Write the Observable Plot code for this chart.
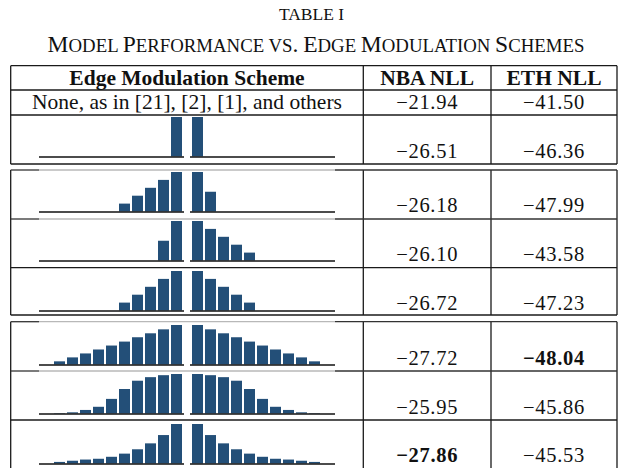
<!DOCTYPE html>
<html><head><meta charset="utf-8">
<script src="https://cdn.jsdelivr.net/npm/d3@7"></script>
<script src="https://cdn.jsdelivr.net/npm/@observablehq/plot@0.6"></script>
<style>
body{margin:0;background:#fff}
#page{position:relative;width:623px;height:468px;overflow:hidden;background:#fff}
#page svg{position:absolute}
</style></head><body><div id="page"></div>
<script>
// ---------- data ----------
const titleText = "TABLE I";
const subtitleText = "Model Performance vs. Edge Modulation Schemes";
const headers = ["Edge Modulation Scheme", "NBA NLL", "ETH NLL"];
const baselineLabel = "None, as in [21], [2], [1], and others";
const nbaNLL = [-21.94, -26.51, -26.18, -26.10, -26.72, -27.72, -25.95, -27.86];
const ethNLL = [-41.50, -46.36, -47.99, -43.58, -47.23, -48.04, -45.86, -45.53];
const slots = [1, 2, 3, 4, 5, 6, 7, 8, 9, 10, 11];
// left half: far-left slot 1 ... slot 11 next to the centre
const leftWeights = [
  [0, 0, 0, 0, 0, 0, 0, 0, 0, 0, 1],
  [0, 0, 0, 0, 0, 0, 0.2, 0.4, 0.6, 0.8, 1],
  [0, 0, 0, 0, 0, 0, 0, 0, 0, 0.5, 1],
  [0, 0, 0, 0, 0, 0, 0.2, 0.4, 0.6, 0.8, 1],
  [0, 0.08, 0.18, 0.28, 0.38, 0.48, 0.58, 0.69, 0.79, 0.89, 1],
  [0, 0.01, 0.03, 0.09, 0.17, 0.37, 0.62, 0.83, 0.92, 0.97, 1],
  [0, 0.04, 0.07, 0.1, 0.12, 0.17, 0.25, 0.36, 0.51, 0.72, 1]
];
// right half: slot 1 next to the centre ... slot 11 far right
const rightWeights = [
  [1, 0, 0, 0, 0, 0, 0, 0, 0, 0, 0],
  [1, 0.5, 0, 0, 0, 0, 0, 0, 0, 0, 0],
  [1, 0.8, 0.6, 0.4, 0.2, 0, 0, 0, 0, 0, 0],
  [1, 0.8, 0.6, 0.4, 0.2, 0, 0, 0, 0, 0, 0],
  [1, 0.89, 0.79, 0.69, 0.58, 0.48, 0.38, 0.28, 0.18, 0.08, 0],
  [1, 0.97, 0.92, 0.83, 0.62, 0.37, 0.17, 0.09, 0.03, 0.01, 0],
  [1, 0.72, 0.51, 0.36, 0.25, 0.17, 0.12, 0.1, 0.07, 0.04, 0]
];

// ---------- layout ----------
const barColor = "#234f78";
const serif = "'Liberation Serif','Times New Roman',serif";
const colX = [10.7, 363.3, 491, 617];
const boxes = [[65.7, 164], [170, 315], [321.7, 470]];
const blackRules = [65.7, 90, 115, 164, 267.7, 315, 420];
const softRules = [170, 219, 321.7, 371];
const headerBase = 85;
const row1Base = 109;
const numBase = [157.5, 211.7, 261, 310, 365, 414, 461.7];
const barTop = [116.7, 171.7, 221, 271, 324.7, 374, 424];
const leftX = 39.3, rightX = 190.3, halfW = 145;

const page = document.getElementById("page");
const svg = d3.select(page).append("svg")
  .attr("width", 623).attr("height", 468)
  .style("left", "0px").style("top", "0px");

// title
svg.append("text").attr("x", 311.5).attr("y", 20).attr("text-anchor", "middle")
  .attr("font-family", serif).attr("font-size", 17.5).attr("fill", "#111").text(titleText);

// small caps subtitle
const bigSize = 23.5, smallSize = 18.8;
const sub = svg.append("text").attr("x", 316).attr("y", 52).attr("text-anchor", "middle")
  .attr("font-family", serif).attr("font-size", bigSize).attr("fill", "#111");
subtitleText.split(/(\s+)/).forEach(tok => {
  if (/^\s+$/.test(tok)) { sub.append("tspan").attr("font-size", smallSize).text(" "); return; }
  for (const ch of tok) {
    const isUpper = ch !== ch.toLowerCase() || /[^a-z]/.test(ch);
    sub.append("tspan").attr("font-size", isUpper ? bigSize : smallSize).text(ch.toUpperCase());
  }
});

// rules
const rules = svg.append("g").attr("fill", "none");
for (const [y0, y1] of boxes) {
  for (const x of colX) {
    rules.append("line").attr("x1", x).attr("x2", x).attr("y1", y0).attr("y2", y1)
      .attr("stroke", "#1a1a1a").attr("stroke-width", 1.3);
  }
}
for (const y of blackRules) {
  rules.append("line").attr("x1", colX[0]).attr("x2", colX[3]).attr("y1", y).attr("y2", y)
    .attr("stroke", "#1a1a1a").attr("stroke-width", 1.3);
}
for (const y of softRules) {
  rules.append("line").attr("x1", colX[0]).attr("x2", 39).attr("y1", y).attr("y2", y)
    .attr("stroke", "#333").attr("stroke-width", 1.3);
  rules.append("line").attr("x1", 39).attr("x2", 335).attr("y1", y).attr("y2", y)
    .attr("stroke", "#b8b8b8").attr("stroke-width", 1.3);
  rules.append("line").attr("x1", 335).attr("x2", colX[3]).attr("y1", y).attr("y2", y)
    .attr("stroke", "#333").attr("stroke-width", 1.3);
}

// header
const cx = [(colX[0] + colX[1]) / 2, (colX[1] + colX[2]) / 2, (colX[2] + colX[3]) / 2];
headers.forEach((h, i) => {
  svg.append("text").attr("x", cx[i]).attr("y", headerBase).attr("text-anchor", "middle")
    .attr("font-family", serif).attr("font-weight", "bold").attr("font-size", 21.5)
    .attr("fill", "#111").text(h);
});
svg.append("text").attr("x", cx[0]).attr("y", row1Base).attr("text-anchor", "middle")
  .attr("font-family", serif).attr("font-size", 21.5).attr("fill", "#111").text(baselineLabel);

// numbers
const fmt = v => "\u2212" + Math.abs(v).toFixed(2);
const bestNba = d3.minIndex(nbaNLL), bestEth = d3.minIndex(ethNLL);
const allBase = [row1Base, ...numBase];
nbaNLL.forEach((v, i) => {
  svg.append("text").attr("x", cx[1]).attr("y", allBase[i]).attr("text-anchor", "middle")
    .attr("font-family", serif).attr("font-size", 20.5).attr("letter-spacing", 0.7)
    .attr("font-weight", i === bestNba ? "bold" : "normal").attr("fill", "#111").text(fmt(v));
});
ethNLL.forEach((v, i) => {
  svg.append("text").attr("x", cx[2]).attr("y", allBase[i]).attr("text-anchor", "middle")
    .attr("font-family", serif).attr("font-size", 20.5).attr("letter-spacing", 0.7)
    .attr("font-weight", i === bestEth ? "bold" : "normal").attr("fill", "#111").text(fmt(v));
});

// bar glyphs
function half(weights) {
  const data = slots.map((s, i) => ({slot: s, w: weights[i]}));
  return Plot.plot({
    width: halfW, height: 43,
    marginTop: 1, marginBottom: 2.5, marginLeft: 0, marginRight: 0,
    style: {background: "transparent"},
    x: {type: "band", domain: slots, padding: 0.15, axis: null},
    y: {domain: [0, 1], axis: null},
    marks: [
      Plot.barY(data, {x: "slot", y: "w", fill: barColor}),
      Plot.ruleY([0], {stroke: "#111", strokeWidth: 1.3})
    ]
  });
}
leftWeights.forEach((lw, r) => {
  const a = half(lw);
  a.style.left = leftX + "px"; a.style.top = (barTop[r] - 1) + "px";
  page.appendChild(a);
  const b = half(rightWeights[r]);
  b.style.left = rightX + "px"; b.style.top = (barTop[r] - 1) + "px";
  page.appendChild(b);
});
</script></body></html>
